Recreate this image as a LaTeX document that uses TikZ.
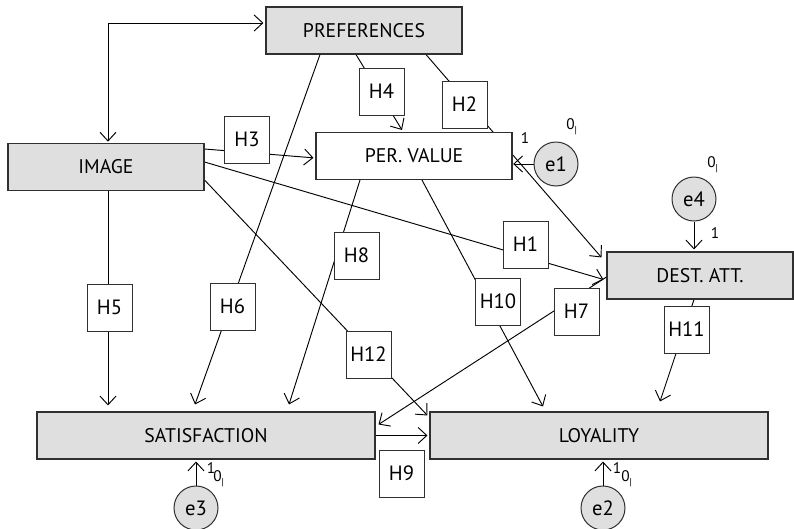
\documentclass[tikz,border=0pt]{standalone}
\usepackage{fontspec}
\setmainfont{PT Sans}
\usetikzlibrary{arrows.meta,calc}
\pgfdeclarelayer{bg}
\pgfsetlayers{bg,main}
\definecolor{boxgray}{HTML}{DFDFDF}
\definecolor{edge}{HTML}{303030}
\tikzset{
  var/.style={draw=edge, line width=0.8pt, fill=boxgray, minimum height=35.25pt, inner sep=0pt, font=\fontsize{14.8}{16}\selectfont},
  pvbox/.style={var, fill=white},
  hyp/.style={draw=edge, line width=0.75pt, fill=white, minimum width=33.75pt, minimum height=35.25pt, inner sep=0pt, font=\fontsize{15.5}{17}\selectfont},
  err/.style={circle, draw=edge, line width=0.75pt, fill=boxgray, minimum size=33pt, inner sep=0pt, font=\fontsize{15.5}{17}\selectfont},
  conn/.style={line width=0.7pt, -{Straight Barb[length=6.5pt,width=12pt]}},
  small/.style={inner sep=0pt, font=\fontsize{11.5}{13}\selectfont},
}
\newcommand{\zerobar}{0\raisebox{-0.55ex}{\fontsize{7.5}{8}\selectfont |}}
\begin{document}
\begin{tikzpicture}[x=0.75pt,y=-0.75pt]
\useasboundingbox (0,0) rectangle (794,529);
% main variables
\node[var, minimum width=147pt] (pref) at (364,30.5) {PREFERENCES};
\node[var, minimum width=147pt] (img) at (106,167) {IMAGE};
\node[pvbox, minimum width=147pt] (pv) at (414,156) {PER. VALUE};
\node[var, minimum width=139.5pt] (dest) at (700,275.5) {DEST. ATT.};
\node[var, minimum width=253.5pt] (sat) at (206,435.5) {SATISFACTION};
\node[var, minimum width=253.5pt] (loy) at (599,435.5) {LOYALITY};
% error terms
\node[err] (e1) at (556,164) {e1};
\node[err] (e4) at (694,199) {e4};
\node[err] (e3) at (196,508) {e3};
\node[err] (e2) at (603,508) {e2};
% hypothesis labels
\node[hyp] (h4) at (381.5,91.5) {H4};
\node[hyp] (h2) at (464.5,104.5) {H2};
\node[hyp] (h3) at (247,139.5) {H3};
\node[hyp] (h1) at (525.5,244.5) {H1};
\node[hyp] (h10) at (498,301.5) {H10};
\node[hyp] (h7) at (576.5,311.5) {H7};
\node[hyp] (h11) at (686.5,329.5) {H11};
\node[hyp] (h8) at (356.5,255.5) {H8};
\node[hyp] (h6) at (232.5,306.5) {H6};
\node[hyp] (h12) at (368.5,354.5) {H12};
\node[hyp] (h5) at (109.5,307.5) {H5};
\node[hyp] (h9) at (401.5,473.5) {H9};
% small labels
\node[small] (l1a) at (525,138) {1};
\node[small, anchor=west] (l0a) at (566,127) {\zerobar};
\node[small] (l1d) at (715,233) {1};
\node[small, anchor=west] (l0d) at (707,165) {\zerobar};
\node[small] (l1c) at (211,468) {1};
\node[small, anchor=west] (l0c) at (213,479) {\zerobar};
\node[small] (l1b) at (617,468) {1};
\node[small, anchor=west] (l0b) at (621,479) {\zerobar};
% connectors
\begin{pgfonlayer}{bg}
\draw[conn, {Straight Barb[length=6.5pt,width=12pt]}-{Straight Barb[length=6.5pt,width=12pt]}, shorten <=1pt, shorten >=1.5pt]
  ($(img.north)+(2,0)$) |- ($(pref.west)+(0,-7.5)$);
\draw[conn, shorten >=1.5pt] ($(img.east)+(0,-18)$) -- ($(pv.west)+(0,2)$);
\draw[conn] ($(img.east)+(0,-5)$) -- ($(dest.west)+(-3,4)$);
\draw[conn] ($(img.east)+(0,13)$) -- ($(loy.north west)+(-2,4)$);
\draw[conn] ($(img.south)+(2,0)$) -- ($(sat.north)+(-98,-6)$);
\draw[conn] ($(pref.south)+(-44,0)$) -- ($(sat.north)+(-11,-7)$);
\draw[conn] ($(pref.south)+(-8,0)$) -- ($(pv.north)+(-12,-2)$);
\draw[conn] ($(pref.south)+(62,0)$) -- ($(dest.north west)+(-5,6)$);
\draw[conn] ($(pv.south)+(-54,0)$) -- ($(sat.north)+(83,-7)$);
\draw[conn] ($(pv.south)+(8,0)$) -- ($(loy.north)+(-56,-5)$);
\draw[conn] ($(dest.west)+(0,1.5)$) -- ($(sat.north east)+(3,13)$);
\draw[conn] ($(dest.south)+(-6,0)$) -- ($(loy.north)+(61,-10)$);
\draw[conn, shorten >=1.5pt] (sat.east) -- (loy.west);
\draw[conn, shorten >=0.5pt] (e1.west) -- (e1.west -| pv.east);
\draw[conn, shorten >=1.5pt] (e4.south) -- (e4.south |- dest.north);
\draw[conn, shorten >=1.5pt] (e3.north) -- (e3.north |- sat.south);
\draw[conn, shorten >=1.5pt] (e2.north) -- (e2.north |- loy.south);
\end{pgfonlayer}
\end{tikzpicture}
\end{document}
